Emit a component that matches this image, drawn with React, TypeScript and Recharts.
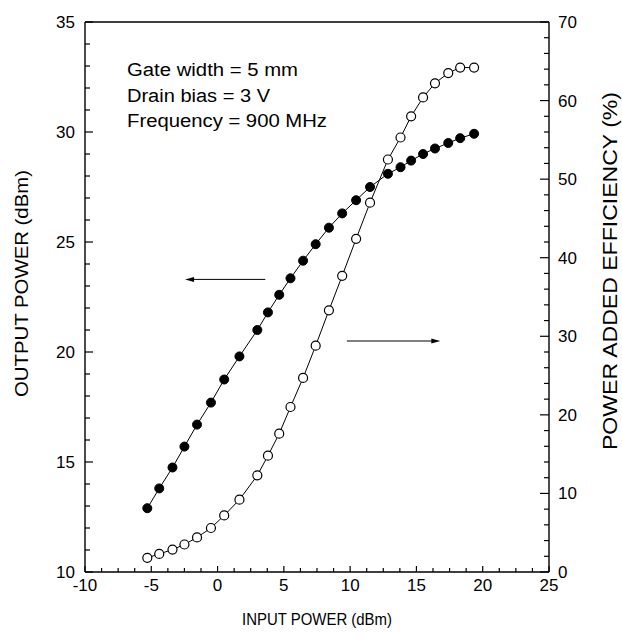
import { LineChart, Line, XAxis, YAxis, ReferenceLine, Label, Customized } from 'recharts';

const FONT = '"Liberation Sans", Arial, sans-serif';

// input power (dBm), shared by both sweeps
const PIN = [-5.3, -4.4, -3.4, -2.5, -1.55, -0.5, 0.5, 1.65, 3.0, 3.8, 4.65, 5.5, 6.45, 7.4, 8.4, 9.4, 10.45, 11.5, 12.85, 13.8, 14.6, 15.5, 16.4, 17.4, 18.3, 19.35];
// output power (dBm) - filled markers
const POUT = [12.9, 13.8, 14.75, 15.7, 16.7, 17.7, 18.75, 19.8, 21.0, 21.8, 22.6, 23.35, 24.15, 24.9, 25.65, 26.3, 26.9, 27.5, 28.1, 28.4, 28.7, 29.0, 29.25, 29.5, 29.72, 29.92];
// power added efficiency (%) - open markers
const PAE = [1.8, 2.3, 2.85, 3.5, 4.4, 5.6, 7.2, 9.2, 12.3, 14.8, 17.6, 21.0, 24.7, 28.8, 33.3, 37.7, 42.4, 47.0, 52.5, 55.3, 58.0, 60.4, 62.2, 63.5, 64.2, 64.2];

const X_TICKS = Array.from({ length: 29 }, (_, i) => -10 + i * 1.25);
const LEFT_TICKS = Array.from({ length: 26 }, (_, i) => 10 + i);
const RIGHT_TICKS = Array.from({ length: 36 }, (_, i) => i * 2);

const NOTES = ['Gate width = 5 mm', 'Drain bias = 3 V', 'Frequency = 900 MHz'];
const NOTE_LENGTHS = [171, 143, 200];

// arrows pointing at the matching axis (data units)
const LEFT_ARROW = { from: 3.6, to: -2.45, y: 23.3 };
const RIGHT_ARROW = { from: 9.75, to: 16.8, y: 20.5 };

const data = PIN.map((pin, i) => ({ pin, pout: POUT[i], pae: PAE[i] }));

const isMajor = (v: number, step: number) => Math.abs(v / step - Math.round(v / step)) < 1e-6;

function BottomTick({ x, y, payload }: any) {
  const major = isMajor(payload.value, 5);
  return (
    <g>
      <line x1={x} y1={y} x2={x} y2={y - (major ? 6 : 4)} stroke="#000" strokeWidth={1.2} />
      {major && (
        <text x={x} y={y + 19} textAnchor="middle" fontSize={17} fontFamily={FONT} fill="#000">
          {payload.value}
        </text>
      )}
    </g>
  );
}

function LeftTick({ x, y, payload }: any) {
  const major = isMajor(payload.value, 5);
  return (
    <g>
      <line x1={x} y1={y} x2={x + (major ? 8 : 5)} y2={y} stroke="#000" strokeWidth={1.2} />
      {major && (
        <text x={x - 10} y={y + 6} textAnchor="end" fontSize={17} fontFamily={FONT} fill="#000">
          {payload.value}
        </text>
      )}
    </g>
  );
}

function RightTick({ x, y, payload }: any) {
  const major = isMajor(payload.value, 10);
  return (
    <g>
      <line x1={x} y1={y} x2={x - (major ? 9 : 5)} y2={y} stroke="#000" strokeWidth={1.2} />
      {major && (
        <text x={x + 9} y={y + 6} textAnchor="start" fontSize={17} fontFamily={FONT} fill="#000">
          {payload.value}
        </text>
      )}
    </g>
  );
}

function Arrow(props: any) {
  const { x1, y1, x2, y2 } = props;
  const dir = x2 > x1 ? 1 : -1;
  return (
    <g>
      <line x1={x1} y1={y1} x2={x2 - dir * 6} y2={y2} stroke="#000" strokeWidth={1} />
      <polygon points={`${x2},${y2} ${x2 - dir * 9},${y2 - 2.5} ${x2 - dir * 9},${y2 + 2.5}`} fill="#000" />
    </g>
  );
}

function Notes() {
  return (
    <g>
      {NOTES.map((t, i) => (
        <text key={t} x={127} y={76 + i * 25.5} fontSize={18} fontFamily={FONT} fill="#000"
          textLength={NOTE_LENGTHS[i]} lengthAdjust="spacingAndGlyphs">
          {t}
        </text>
      ))}
    </g>
  );
}

const titleStyle = { fontFamily: FONT, fill: '#000' };

export default function App() {
  return (
    <div style={{ position: 'absolute', left: 0, top: 0, width: 622, height: 642, background: '#fff' }}>
      <LineChart width={622} height={642} data={data} margin={{ top: 22, right: 0, bottom: 0, left: 0 }}>
        <XAxis dataKey="pin" type="number" domain={[-10, 25]} ticks={X_TICKS} interval={0}
          height={70} tickSize={0} tickMargin={0} tickLine={false} tick={<BottomTick />}
          axisLine={{ stroke: '#000', strokeWidth: 1.4 }} allowDataOverflow>
          <Label content={({ viewBox }: any) => (
            <text x={viewBox.x + viewBox.width / 2} y={viewBox.y + 53} textAnchor="middle" fontSize={17}
              textLength={150} lengthAdjust="spacingAndGlyphs" style={titleStyle}>
              INPUT POWER (dBm)
            </text>
          )} />
        </XAxis>
        <YAxis yAxisId="left" orientation="left" type="number" domain={[10, 35]} ticks={LEFT_TICKS} interval={0}
          width={85} tickSize={0} tickMargin={0} tickLine={false} tick={<LeftTick />}
          axisLine={{ stroke: '#000', strokeWidth: 1.4 }} allowDataOverflow>
          <Label content={({ viewBox }: any) => {
            const cx = viewBox.x + 28;
            const cy = viewBox.y + viewBox.height / 2 - 13.5;
            return (
              <text x={cx} y={cy} transform={`rotate(-90, ${cx}, ${cy})`} textAnchor="middle" fontSize={18}
                textLength={227} lengthAdjust="spacingAndGlyphs" style={titleStyle}>
                OUTPUT POWER (dBm)
              </text>
            );
          }} />
        </YAxis>
        <YAxis yAxisId="right" orientation="right" type="number" domain={[0, 70]} ticks={RIGHT_TICKS} interval={0}
          width={73} tickSize={0} tickMargin={0} tickLine={false} tick={<RightTick />}
          axisLine={{ stroke: '#000', strokeWidth: 1.4 }} allowDataOverflow>
          <Label content={({ viewBox }: any) => {
            const cx = viewBox.x + 68;
            const cy = viewBox.y + viewBox.height / 2 - 26;
            return (
              <text x={cx} y={cy} transform={`rotate(-90, ${cx}, ${cy})`} textAnchor="middle" fontSize={20}
                textLength={358} lengthAdjust="spacingAndGlyphs" style={titleStyle}>
                POWER ADDED EFFICIENCY (%)
              </text>
            );
          }} />
        </YAxis>
        <ReferenceLine yAxisId="left" y={35} stroke="#000" strokeWidth={1.4} />
        <ReferenceLine yAxisId="left" segment={[{ x: LEFT_ARROW.from, y: LEFT_ARROW.y }, { x: LEFT_ARROW.to, y: LEFT_ARROW.y }]}
          shape={<Arrow />} />
        <ReferenceLine yAxisId="left" segment={[{ x: RIGHT_ARROW.from, y: RIGHT_ARROW.y }, { x: RIGHT_ARROW.to, y: RIGHT_ARROW.y }]}
          shape={<Arrow />} />
        <Line yAxisId="left" dataKey="pout" stroke="#000" strokeWidth={1} isAnimationActive={false}
          dot={{ r: 4.5, fill: '#000', stroke: '#000', strokeWidth: 1 }} activeDot={false} />
        <Line yAxisId="right" dataKey="pae" stroke="#000" strokeWidth={1} isAnimationActive={false}
          dot={{ r: 4.5, fill: '#fff', stroke: '#000', strokeWidth: 1.2 }} activeDot={false} />
        <Customized component={Notes} />
      </LineChart>
    </div>
  );
}
